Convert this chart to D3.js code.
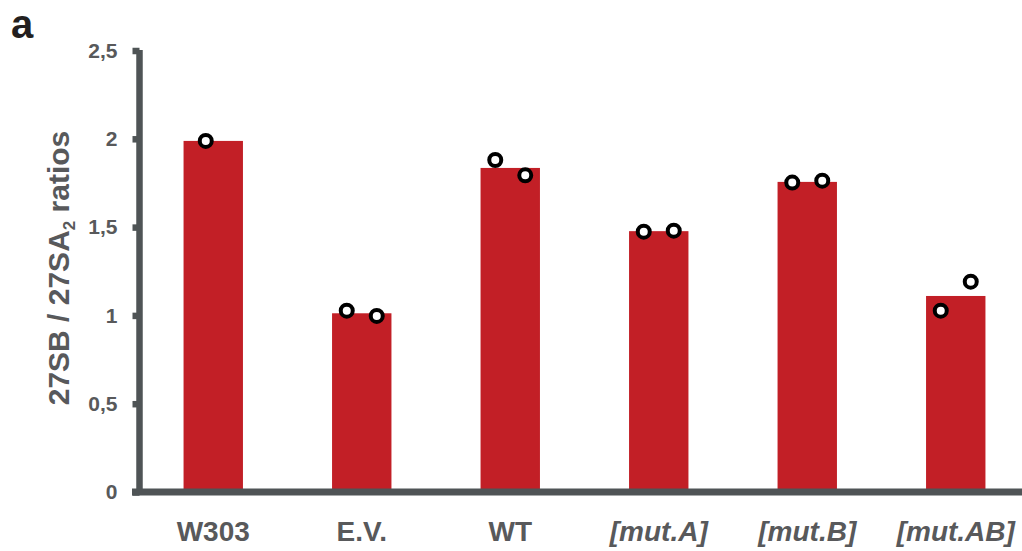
<!DOCTYPE html>
<html>
<head>
<meta charset="utf-8">
<script src="https://cdn.jsdelivr.net/npm/d3@7"></script>
<style>
html,body{margin:0;padding:0;background:#fff;}
svg{display:block;font-family:"Liberation Sans",Arial,sans-serif;}
</style>
</head>
<body>
<svg id="chart" width="1022" height="551"></svg>
<script>
const categories = ["W303", "E.V.", "WT", "[mut.A]", "[mut.B]", "[mut.AB]"];
const italicCats = ["[mut.A]", "[mut.B]", "[mut.AB]"];
const barValues = [1.988, 1.012, 1.835, 1.477, 1.756, 1.110];
const replicateValues = [
  [1.988],
  [1.027, 0.997],
  [1.880, 1.793],
  [1.474, 1.480],
  [1.752, 1.763],
  [1.027, 1.191]
];
const yTicks = [0, 0.5, 1, 1.5, 2, 2.5];
const yTickLabels = ["0", "0,5", "1", "1,5", "2", "2,5"];

const svg = d3.select("#chart");
const axisColor = "#4f5456";
const textColor = "#58595b";
const barColor = "#c21f26";

const x = d3.scaleBand().domain(categories).range([139, 1030]).paddingInner(0.6).paddingOuter(0.3);
const y = d3.scaleLinear().domain([0, 2.5]).range([492, 50.5]);

// bars
svg.append("g").selectAll("rect").data(categories).join("rect")
  .attr("x", d => x(d))
  .attr("width", x.bandwidth())
  .attr("y", (d, i) => y(barValues[i]))
  .attr("height", (d, i) => y(0) - y(barValues[i]))
  .attr("fill", barColor);

// y axis
const yAxis = d3.axisLeft(y).tickValues(yTicks)
  .tickFormat((d, i) => yTickLabels[i]).tickSize(7).tickPadding(15);
const gy = svg.append("g").attr("transform", "translate(139.5,0)").call(yAxis);
gy.select(".domain").remove();
gy.selectAll(".tick line").attr("stroke", axisColor).attr("stroke-width", 6.5);
gy.selectAll(".tick text").attr("fill", textColor)
  .attr("font-size", 21).attr("font-weight", "bold")
  .attr("font-family", "Liberation Sans, Arial, sans-serif");
svg.append("line").attr("x1", 139.5).attr("x2", 139.5)
  .attr("y1", y(2.5) - 0.5).attr("y2", y(0))
  .attr("stroke", axisColor).attr("stroke-width", 6.5);

// x axis
const xAxis = d3.axisBottom(x).tickSize(0).tickPadding(29);
const gx = svg.append("g").attr("transform", `translate(0,${y(0)})`).call(xAxis);
gx.select(".domain").remove();
gx.selectAll(".tick text").attr("fill", textColor)
  .attr("font-size", 28).attr("font-weight", "bold")
  .attr("font-style", d => italicCats.includes(d) ? "italic" : "normal")
  .attr("font-family", "Liberation Sans, Arial, sans-serif")
  .attr("dy", "0.71em");
svg.append("line").attr("x1", 132).attr("x2", 1022)
  .attr("y1", y(0)).attr("y2", y(0))
  .attr("stroke", axisColor).attr("stroke-width", 7);

// replicate points
const pts = [];
replicateValues.forEach((vals, i) => {
  vals.forEach((v, j) => {
    const off = vals.length === 1 ? -7.5 : (j === 0 ? -15 : 15);
    pts.push({cat: categories[i], v, off});
  });
});
svg.append("g").selectAll("circle").data(pts).join("circle")
  .attr("cx", d => x(d.cat) + x.bandwidth() / 2 + d.off)
  .attr("cy", d => y(d.v))
  .attr("r", 6)
  .attr("fill", "#fff")
  .attr("stroke", "#000")
  .attr("stroke-width", 4);

// y title
const title = svg.append("text")
  .attr("transform", "translate(69,268) rotate(-90)")
  .attr("text-anchor", "middle")
  .attr("fill", textColor)
  .attr("font-size", 30).attr("font-weight", "bold");
title.append("tspan").text("27SB / 27SA");
title.append("tspan").attr("font-size", 17).attr("dy", 6).text("2");
title.append("tspan").attr("dy", -6).text(" ratios");

// panel letter
svg.append("text").attr("x", 11).attr("y", 38)
  .attr("fill", "#231f20").attr("font-size", 40).attr("font-weight", "bold")
  .text("a");
</script>
</body>
</html>
